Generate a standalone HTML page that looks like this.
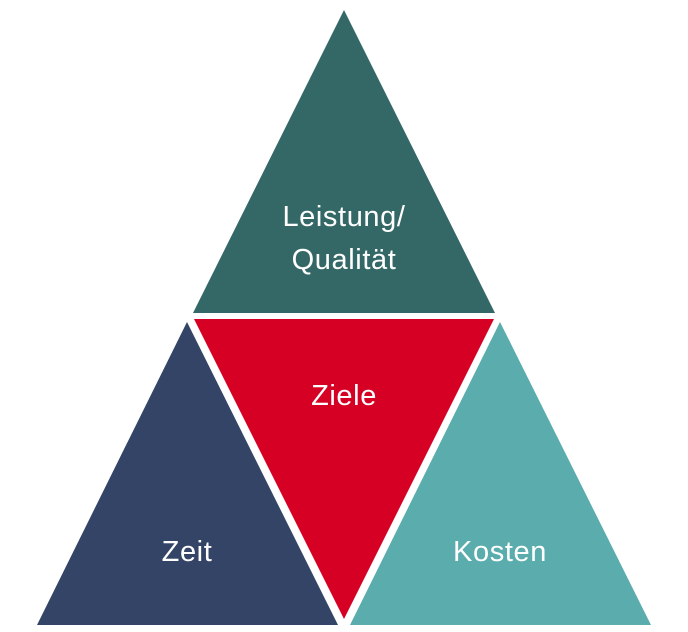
<!DOCTYPE html>
<html><head><meta charset="utf-8"><style>
html,body{margin:0;padding:0;background:#fff;width:688px;height:632px;overflow:hidden}
text{font-family:"Liberation Sans","DejaVu Sans",sans-serif;fill:#fff;font-size:29px;letter-spacing:0.6px;text-anchor:middle}
</style></head><body>
<svg width="688" height="632" viewBox="0 0 688 632" xmlns="http://www.w3.org/2000/svg">
<polygon points="344,10 495,313 193,313" fill="#346867"/>
<polygon points="187,322 338,625 37,625" fill="#334466"/>
<polygon points="500,322 651,625 350,625" fill="#5bacac"/>
<polygon points="194,319 494,319 344,619" fill="#d50024"/>
<text x="344" y="226">Leistung/</text>
<text x="344" y="269">Qualität</text>
<text x="344" y="405">Ziele</text>
<text x="187" y="561">Zeit</text>
<text x="500" y="561">Kosten</text>
</svg>
</body></html>
